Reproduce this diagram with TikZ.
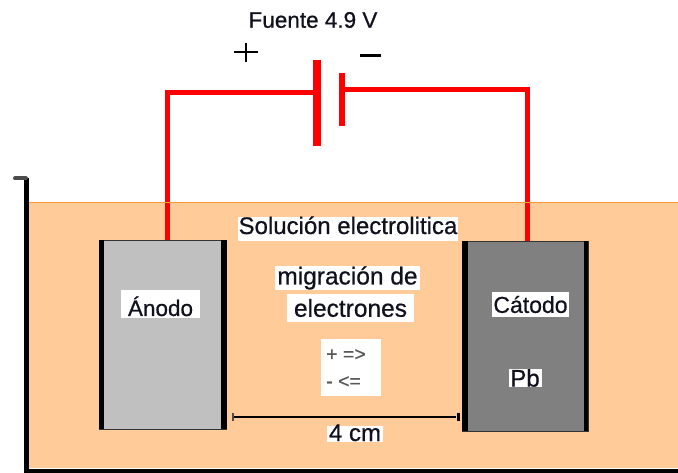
\documentclass[tikz,border=0pt]{standalone}
\usepackage{fontspec}
\setmainfont{Liberation Sans}[FakeBold=0.6]
\definecolor{liquid}{HTML}{FFCC99}
\definecolor{liqline}{HTML}{FF9933}
\definecolor{anodegray}{HTML}{C0C0C0}
\definecolor{cathgray}{HTML}{808080}
\definecolor{wire}{HTML}{FF0000}
\definecolor{ink}{HTML}{10101E}
\tikzset{
  lbl/.style={fill=white,inner sep=0pt,text=ink,align=center,font=\fontsize{#1}{#1}\selectfont},
  wireline/.style={draw=wire,line width=5pt,line join=miter},
  plate/.style={fill=wire,draw=none},
  band/.style={fill=black,draw=none},
  elec/.style={draw=black!80,line width=1pt}
}
\begin{document}
\begin{tikzpicture}[x=1pt,y=-1pt]
\useasboundingbox (0,0) rectangle (678,473);
% liquid
\fill[liquid] (28,202) rectangle (678,468);
% electrodes
\node[elec,fill=anodegray,minimum width=127pt,minimum height=189pt,inner sep=0pt,anchor=north west] (anode) at (99,240) {};
\node[elec,fill=cathgray,minimum width=126pt,minimum height=190pt,inner sep=0pt,anchor=north west] (cathode) at (462,241) {};
\fill[band] (99,240) rectangle (104,429);
\fill[band] (221,240) rectangle (226.5,429);
\fill[band] (462,241) rectangle (468,431);
\fill[band] (584,241) rectangle (588,431);
% battery
\node[plate,minimum width=8pt,minimum height=86pt,inner sep=0pt] (platepos) at (317,103) {};
\node[plate,minimum width=6pt,minimum height=53pt,inner sep=0pt] (plateneg) at (342,100) {};
\coordinate (a) at (167.5,93);
\coordinate (c) at (527,90);
\draw[wireline] (anode.north -| a) -- (a) -- (a -| platepos.west);
\draw[wireline] (cathode.north -| c) -- (c) -- (c -| plateneg.east);
\draw[liqline,line width=1pt] (28,202.5) -- (678,202.5);
% vessel
\fill[black] (23.5,178) rectangle (29,473);
\fill[black] (23.5,469) rectangle (678,473);
\draw[black!70,line width=4pt,line cap=round] (15,178.5) -- (26,178.5);
% signs
\node[inner sep=0pt,text=ink] (ftxt) at (313,20) {\fontsize{22.5}{22.5}\selectfont Fuente 4.9 V};
\draw[black,line width=1.5pt] (234,52) -- (258,52) (246,43) -- (246,62);
\draw[black,line width=3pt] (360,56) -- (381,56);
% labels
\node[lbl=24,minimum width=220pt,minimum height=24pt] (sol) at (348,229) {\raisebox{-5pt}[0pt][0pt]{Solución electrolitica}};
\node[lbl=24.5,minimum width=145pt,minimum height=24pt] (mig) at (347.5,278) {migración de};
\node[lbl=24.5,minimum width=127pt,minimum height=28pt] (ele) at (350.5,308) {electrones};
\node[lbl=11,minimum width=60pt,minimum height=56pt] (rules) at (351,367.5) {};
\node[inner sep=0pt,text=black!65,anchor=west] (r1) at (326,355) {\fontsize{19.5}{19.5}\selectfont + =>};
\node[inner sep=0pt,text=black!65,anchor=west] (r2) at (326,382) {\fontsize{19.5}{19.5}\selectfont - <=};
\node[lbl=22.5,minimum width=79pt,minimum height=28pt] (an) at (160.5,304) {\raisebox{-12pt}[0pt][0pt]{Ánodo}};
\node[lbl=23,minimum width=77pt,minimum height=25pt] (ca) at (530.5,304.5) {Cátodo};
\node[lbl=24,minimum width=33pt,minimum height=18pt] (pb) at (525,378) {Pb};
\node[lbl=24,minimum width=56pt,minimum height=16pt] (cm) at (355,434) {\raisebox{-7pt}[0pt][0pt]{4 cm}};
% dimension
\node[inner sep=0pt,minimum width=2pt,minimum height=8pt,fill=black!70] (dl) at (233,417) {};
\node[inner sep=0pt,minimum width=3pt,minimum height=8pt,fill=black] (dr) at (458,417) {};
\draw[black,line width=1.2pt] (dl) -- (dr);
\end{tikzpicture}
\end{document}
